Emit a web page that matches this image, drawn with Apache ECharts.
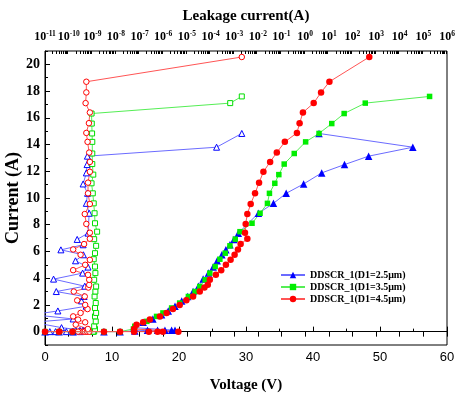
<!DOCTYPE html>
<html>
<head>
<meta charset="utf-8">
<script src="https://cdn.jsdelivr.net/npm/echarts@6/dist/echarts.min.js"></script>
<style>
html, body { margin: 0; padding: 0; background: #fff; }
#chart { width: 455px; height: 399px; }
</style>
</head>
<body>
<div id="chart"></div>
<script>
var chart = echarts.init(document.getElementById('chart'));
var serif = 'Liberation Serif';

// tick labels
var topExp = [-11, -10, -9, -8, -7, -6, -5, -4, -3, -2, -1, 0, 1, 2, 3, 4, 5, 6];
var yLabels = [0, 2, 4, 6, 8, 10, 12, 14, 16, 18, 20];
var yMinor = [-1, 1, 3, 5, 7, 9, 11, 13, 15, 17, 19, 21];

// D1=2.5um : voltage / current and leakage (A)
var bV = [0, 2.1, 4.2, 8.8, 11.2, 13.4, 15.3, 16.8, 17.9, 18.9, 19.4, 13.3, 14.65, 16.1, 17.4, 18.4, 19.4, 20.4, 21.3, 22.1, 22.9,
  23.6, 24.4, 25.1, 25.7, 26.4, 27.0, 27.6, 28.2, 28.85, 31.85, 34.1, 36.0, 38.6, 41.3, 44.7, 48.3, 54.9, 40.9];
var bI = [0, 0, 0, 0, 0, 0.05, 0.1, 0.1, 0.1, 0.1, 0.1, 0.3, 0.7, 0.95, 1.27, 1.55, 1.9, 2.3, 2.63, 3.0, 3.4,
  3.93, 4.38, 4.83, 5.3, 5.75, 6.12, 6.5, 6.9, 7.37, 8.86, 9.6, 10.35, 11.05, 11.88, 12.5, 13.13, 13.8, 14.83];
var bLeak = [1.6e-11, 2.8e-11, 8e-11, 1.5e-10, 3.2e-10, 4.5e-10, 2.0e-10, 5.5e-10, 3.0e-10, 6.5e-10, 4.0e-10,
  5.0e-11, 3e-12, 1.55e-10, 3e-12, 3.5e-11, 5.5e-10, 3.5e-10, 4.5e-10, 3.0e-11, 4.8e-10,
  2.3e-11, 3.9e-10, 6.6e-10, 1.95e-10, 4.2e-10, 4.7e-11, 4.1e-10, 2.3e-10, 6.6e-10,
  7.4e-10, 5.6e-10, 6.3e-10, 4.1e-10, 5.6e-10, 6.0e-10, 6.2e-10, 1.8e-4, 2.1e-3];

// D1=3.5um
var gV = [0, 2.1, 4.1, 8.8, 11.2, 13.2, 13.4, 15.2, 16.65, 17.6, 18.9, 20.1, 21.4, 22.4, 23.1, 23.9, 24.6, 25.4, 26.1, 26.9,
  27.6, 28.4, 29.1, 30.9, 32.1, 33.2, 33.5, 34.3, 34.9, 35.7, 37.2, 38.9, 40.9, 42.8, 44.65, 47.8, 57.4];
var gI = [0, 0, 0, 0, 0, 0.2, 0.4, 0.77, 1.14, 1.4, 1.77, 2.14, 2.63, 3.0, 3.38, 3.88, 4.38, 4.87, 5.42, 5.87,
  6.42, 6.92, 7.48, 8.11, 8.86, 9.6, 10.35, 11.1, 11.75, 12.54, 13.33, 14.2, 14.83, 15.57, 16.32, 17.1, 17.6];
var gLeak = [9e-10, 1.1e-9, 1.0e-9, 1.2e-9, 1.1e-9, 1.3e-9, 1.2e-9, 1.4e-9, 1.3e-9, 1.45e-9, 1.3e-9, 1.4e-9, 1.25e-9, 1.35e-9, 1.45e-9,
  1.2e-9, 1.35e-9, 1.3e-9, 1.15e-9, 1.3e-9, 1.45e-9, 1.2e-9, 1.6e-9, 1.3e-9, 1.25e-9, 1.15e-9, 1.05e-9, 9.3e-10, 1.1e-9, 1.0e-9,
  1.0e-9, 1.0e-9, 9.8e-10, 9.5e-10, 9.3e-10, 6.8e-4, 2.1e-3];

// D1=4.5um
var rV = [0, 2.1, 4.1, 8.8, 11.2, 13.3, 15.5, 16.8, 17.6, 19.9, 13.3, 13.66, 14.65, 15.65, 17.15, 18.15, 19.1, 20.1, 21.1, 22.1,
  23.1, 23.8, 24.3, 24.6, 25.5, 26.3, 27.0, 27.7, 28.3, 28.8, 29.2, 30.2, 29.85, 29.95, 30.2, 30.7, 31.35, 31.95, 32.6, 33.6,
  34.6, 35.8, 37.6, 38.0, 38.5, 40.1, 41.2, 42.45, 48.4];
var rI = [0, 0, 0, 0, 0, 0, 0, 0, 0, 0, 0.2, 0.52, 0.7, 0.9, 1.14, 1.4, 1.69, 2.0, 2.34, 2.63,
  3.0, 3.3, 3.5, 3.88, 4.25, 4.6, 5.0, 5.37, 5.75, 6.15, 6.55, 6.95, 7.4, 8.06, 8.8, 9.55, 10.35, 11.15, 11.96, 12.7,
  13.4, 14.2, 14.87, 15.6, 16.4, 17.1, 17.9, 18.7, 20.55];
var rLeak = [4.2e-11, 1.55e-10, 3.2e-10, 4.2e-10, 5.5e-10, 7e-10, 2.5e-10, 4.8e-10, 6e-10, 7.5e-10,
  6.5e-10, 2.0e-10, 5e-10, 2.5e-10, 1.55e-10, 3.2e-10, 6.3e-10, 5e-10, 2.3e-10, 4.8e-10,
  1.65e-10, 6.8e-10, 7.4e-10, 7.4e-10, 6.6e-10, 1.55e-10, 5.0e-10, 7.9e-10, 3.2e-10, 1.55e-10,
  4.5e-10, 7.9e-10, 7.9e-10, 5.6e-10, 4.8e-10, 7.9e-10, 6.6e-10, 6.6e-10, 7.9e-10, 7.9e-10,
  7.4e-10, 6.3e-10, 5.6e-10, 7.2e-10, 7.9e-10, 5.2e-10, 5.6e-10, 5.6e-10, 2.1e-3];

var names = ['DDSCR_1(D1=2.5\u03bcm)', 'DDSCR_1(D1=3.5\u03bcm)', 'DDSCR_1(D1=4.5\u03bcm)'];

function pairs(xs, ys) {
  return xs.map(function (x, i) { return [x, ys[i]]; });
}

var topMajor = topExp.map(function (e) { return Math.pow(10, e); });
var topMinor = [];
topExp.slice(0, -1).forEach(function (e) {
  for (var k = 2; k <= 9; k++) topMinor.push(k * Math.pow(10, e));
});

function filled(name, sym, size, col, line, data) {
  return {
    name: name, type: 'line', xAxisIndex: 0, yAxisIndex: 0,
    symbol: sym, symbolSize: size, data: data, z: 3,
    itemStyle: { color: col },
    lineStyle: { color: line, width: 1 }
  };
}
function hollow(name, sym, size, col, line, data) {
  return {
    name: name, type: 'line', xAxisIndex: 1, yAxisIndex: 0,
    symbol: sym, symbolSize: size, data: data, z: 2,
    itemStyle: { color: '#fff', borderColor: col, borderWidth: 1 },
    lineStyle: { color: line, width: 1 }
  };
}

var option = {
  animation: false,
  backgroundColor: '#fff',
  grid: {
    left: 45, right: 8, top: 51, bottom: 54, outerBoundsMode: 'none',
    show: true, borderColor: '#000', borderWidth: 1
  },
  legend: {
    data: names, orient: 'vertical', left: 275, top: 265,
    itemWidth: 24, itemHeight: 8, itemGap: 2,
    textStyle: { fontFamily: serif, fontWeight: 'bold', fontSize: 10, color: '#000' }
  },
  xAxis: [{
    type: 'value', min: 0, max: 60, interval: 10, position: 'bottom',
    name: 'Voltage (V)', nameLocation: 'middle', nameGap: 33, nameMoveOverlap: false,
    nameTextStyle: { fontFamily: serif, fontWeight: 'bold', fontSize: 15, color: '#000' },
    axisLine: { lineStyle: { color: '#000' } },
    axisTick: { inside: true, length: 5, lineStyle: { color: '#000' } },
    minorTick: { show: true, splitNumber: 2, length: 3, lineStyle: { color: '#000' } },
    axisLabel: { fontFamily: 'Liberation Sans', fontSize: 13, color: '#000', margin: 6 },
    splitLine: { show: false }
  }, {
    type: 'log', logBase: 10, min: 1e-11, max: 1e6, position: 'top',
    name: 'Leakage current(A)', nameLocation: 'middle', nameGap: 27, nameMoveOverlap: false,
    nameTextStyle: { fontFamily: serif, fontWeight: 'bold', fontSize: 15, color: '#000' },
    axisLine: { lineStyle: { color: '#000' } },
    axisTick: { inside: true, length: 5, customValues: topMajor, lineStyle: { color: '#000' } },
    axisLabel: {
      customValues: topMajor, margin: 8, showMinLabel: true, showMaxLabel: true, hideOverlap: false,
      formatter: function (v) {
        return '{b|10}{s|' + Math.round(Math.log(v) / Math.LN10) + '}';
      },
      rich: {
        b: { fontFamily: serif, fontWeight: 'bold', fontSize: 12, color: '#000' },
        s: { fontFamily: serif, fontWeight: 'bold', fontSize: 7.5, color: '#000', verticalAlign: 'top', padding: [0, 0, 5, 0] }
      }
    },
    splitLine: { show: false }
  }, {
    type: 'log', logBase: 10, min: 1e-11, max: 1e6, position: 'top',
    axisLine: { show: false },
    axisTick: { inside: true, length: 3, customValues: topMinor, lineStyle: { color: '#000' } },
    axisLabel: { show: false },
    splitLine: { show: false }
  }],
  yAxis: [{
    type: 'value', min: -1, max: 21, interval: 1,
    name: 'Current (A)', nameLocation: 'middle', nameGap: 23, nameMoveOverlap: false,
    nameTextStyle: { fontFamily: serif, fontWeight: 'bold', fontSize: 18, color: '#000' },
    axisLine: { show: true, lineStyle: { color: '#000' } },
    axisTick: { show: true, inside: true, length: 5, customValues: yLabels, lineStyle: { color: '#000' } },
    axisLabel: { customValues: yLabels, fontFamily: serif, fontWeight: 'bold', fontSize: 14, color: '#000', margin: 5 },
    splitLine: { show: false }
  }, {
    type: 'value', min: -1, max: 21, interval: 1, position: 'left',
    axisLine: { show: false },
    axisTick: { show: true, inside: true, length: 3, customValues: yMinor, lineStyle: { color: '#000' } },
    axisLabel: { show: false },
    splitLine: { show: false }
  }],
  series: [
    hollow('leak25', 'triangle', 6, '#0000ff', '#6b6bff', pairs(bLeak, bI)),
    hollow('leak35', 'rect', 5, '#00dd00', '#55ee55', pairs(gLeak, gI)),
    hollow('leak45', 'circle', 5.5, '#ff0000', '#ff5555', pairs(rLeak, rI)),
    filled(names[0], 'triangle', 7.5, '#0000ff', '#6b6bff', pairs(bV, bI)),
    filled(names[1], 'rect', 5.5, '#00ee00', '#55ee55', pairs(gV, gI)),
    filled(names[2], 'circle', 6.5, '#ff0000', '#ff5555', pairs(rV, rI))
  ]
};
chart.setOption(option);
</script>
</body>
</html>
